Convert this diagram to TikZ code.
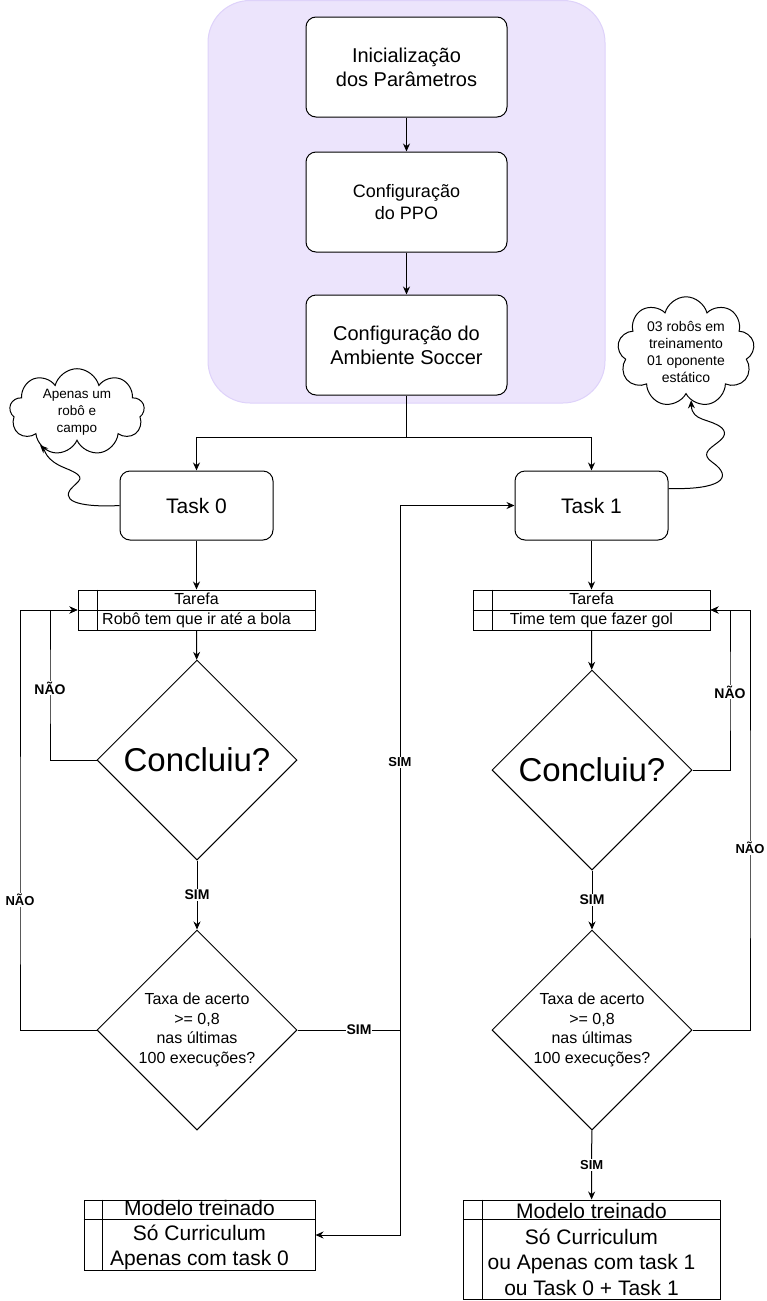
\documentclass[tikz,border=0pt]{standalone}
\usepackage{fontspec}
\setmainfont{Liberation Sans}
\usetikzlibrary{shapes.geometric,shapes.symbols,arrows.meta}

\definecolor{fundo}{RGB}{236,228,252}
\definecolor{fundoborda}{RGB}{222,210,250}

\tikzset{
  etapa/.style={draw, rounded corners=10pt, fill=white, minimum width=201pt, minimum height=100pt, align=center, inner sep=0pt},
  tarefa/.style={draw, rounded corners=10pt, fill=white, minimum width=153pt, minimum height=69pt, font=\fontsize{21}{25}\selectfont},
  tabela/.style={draw, fill=white, align=center, inner sep=0pt},
  decisao/.style={draw, diamond, aspect=1, minimum width=200pt, minimum height=200pt, inner sep=0pt, align=center},
  nuvem/.style={draw, cloud, cloud puffs=9, cloud ignores aspect, fill=white, align=center, inner sep=0pt},
  seta/.style={-{Stealth[length=8pt,width=7pt]}},
  rot/.style={fill=white, inner sep=1pt, font=\bfseries\fontsize{14}{16}\selectfont},
  rotp/.style={fill=white, inner sep=1pt, font=\bfseries\fontsize{13}{15}\selectfont},
}

\begin{document}
\begin{tikzpicture}[x=1pt, y=-1pt, line width=1pt]
\useasboundingbox (0,0) rectangle (767,1301);
% area de configuracao
\filldraw[fill=fundo, draw=fundoborda, rounded corners=42pt] (208,0.5) rectangle (605,403);
\node[etapa, font=\fontsize{20}{24}\selectfont] (ini) at (406.5,67) {Inicialização\\dos Parâmetros};
\node[etapa, font=\fontsize{18}{22}\selectfont] (ppo) at (406.5,202) {Configuração\\do PPO};
\node[etapa, font=\fontsize{20}{24}\selectfont] (amb) at (406.5,345) {Configuração do\\Ambiente Soccer};
\draw[seta] (ini) -- (ppo);
\draw[seta] (ppo) -- (amb);

% tasks
\node[tarefa] (task0) at (196.5,505.5) {Task 0};
\node[tarefa] (task1) at (591.5,505.5) {Task 1};
\coordinate (div) at (406.5,437);
\draw (amb.south) -- (div);
\draw[seta] (div) -| (task0.north);
\draw[seta] (div) -| (task1.north);

% nuvens
\node[nuvem, minimum width=135pt, minimum height=68pt, font=\fontsize{13.5}{17}\selectfont] (nuvemL) at (77,412) {Apenas um\\robô e\\campo};
\node[nuvem, minimum width=137pt, minimum height=105pt, font=\fontsize{14}{17}\selectfont] (nuvemR) at (686,352) {03 robôs em\\treinamento\\01 oponente\\estático};
\draw[seta] (task0.west) .. controls (95,507) and (60,505) .. (70,490) .. controls (78,480) and (90,478) .. (65,468) .. controls (45,460) and (45,450) .. (nuvemL.222);
\draw[seta] ([yshift=17pt]task1.east) .. controls (720,490) and (735,478) .. (712,462) .. controls (692,448) and (735,442) .. (722,428) .. controls (710,418) and (692,422) .. (nuvemR.276);

% tabelas de tarefa
\node[tabela, minimum width=237pt, minimum height=40pt, font=\fontsize{16}{20}\selectfont] (tarL) at (196.5,610) {Tarefa\\Robô tem que ir até a bola};
\draw (tarL.west) -- (tarL.east);
\draw ([xshift=20pt]tarL.north west) -- ([xshift=20pt]tarL.south west);
\node[tabela, minimum width=237pt, minimum height=40pt, font=\fontsize{16}{20}\selectfont] (tarR) at (591.5,610) {Tarefa\\Time tem que fazer gol};
\draw (tarR.west) -- (tarR.east);
\draw ([xshift=20pt]tarR.north west) -- ([xshift=20pt]tarR.south west);
\draw[seta] (task0) -- (tarL);
\draw[seta] (task1) -- (tarR);

% decisoes
\node[decisao, font=\fontsize{33}{38}\selectfont] (concL) at (197,760) {Concluiu?};
\node[decisao, font=\fontsize{16}{19.5}\selectfont] (taxaL) at (197,1030) {Taxa de acerto\\>= 0,8\\nas últimas\\100 execuções?};
\node[decisao, font=\fontsize{33}{38}\selectfont] (concR) at (592,770) {Concluiu?};
\node[decisao, font=\fontsize{16}{19.5}\selectfont] (taxaR) at (592,1030) {Taxa de acerto\\>= 0,8\\nas últimas\\100 execuções?};
\draw[seta] (tarL) -- (concL);
\draw[seta] (tarR) -- (concR);
\draw[seta] (concL) -- node[rot]{SIM} (taxaL);
\draw[seta] (concR) -- node[rot]{SIM} (taxaR);
\draw[seta] (concL.west) -| (50,688) node[rot]{NÃO} |- (tarL.west);
\draw[seta] (taxaL.west) -| (20,900) node[rotp]{NÃO} |- (tarL.west);
\draw[seta] (concR.east) -| (730,692) node[rot]{NÃO} |- (tarR.east);
\draw[seta] (taxaR.east) -| (750,848) node[rotp]{NÃO} |- (tarR.east);

% modelos treinados
\node[tabela, minimum width=231pt, minimum height=70pt, font=\fontsize{21}{25}\selectfont] (modL) at (199.5,1235) {Modelo treinado\\Só Curriculum\\Apenas com task 0};
\draw ([yshift=-20pt]modL.north west) -- ([yshift=-20pt]modL.north east);
\draw ([xshift=19pt]modL.north west) -- ([xshift=19pt]modL.south west);
\node[tabela, minimum width=257pt, minimum height=99pt, font=\fontsize{21}{25.7}\selectfont] (modR) at (591.5,1249.5) {Modelo treinado\\Só Curriculum\\ou Apenas com task 1\\ou Task 0 + Task 1};
\draw ([yshift=-20pt]modR.north west) -- ([yshift=-20pt]modR.north east);
\draw ([xshift=20pt]modR.north west) -- ([xshift=20pt]modR.south west);

% saida SIM da esquerda
\coordinate (juncao) at (400,1030);
\draw (taxaL.east) -- node[rot, pos=0.6]{SIM} (juncao);
\draw[seta] (juncao) |- node[rotp, pos=0.255]{SIM} (task1.west);
\draw[seta] (juncao) |- (modL.east);
\draw[seta] (taxaR) -- node[rotp]{SIM} (modR);
\end{tikzpicture}
\end{document}
